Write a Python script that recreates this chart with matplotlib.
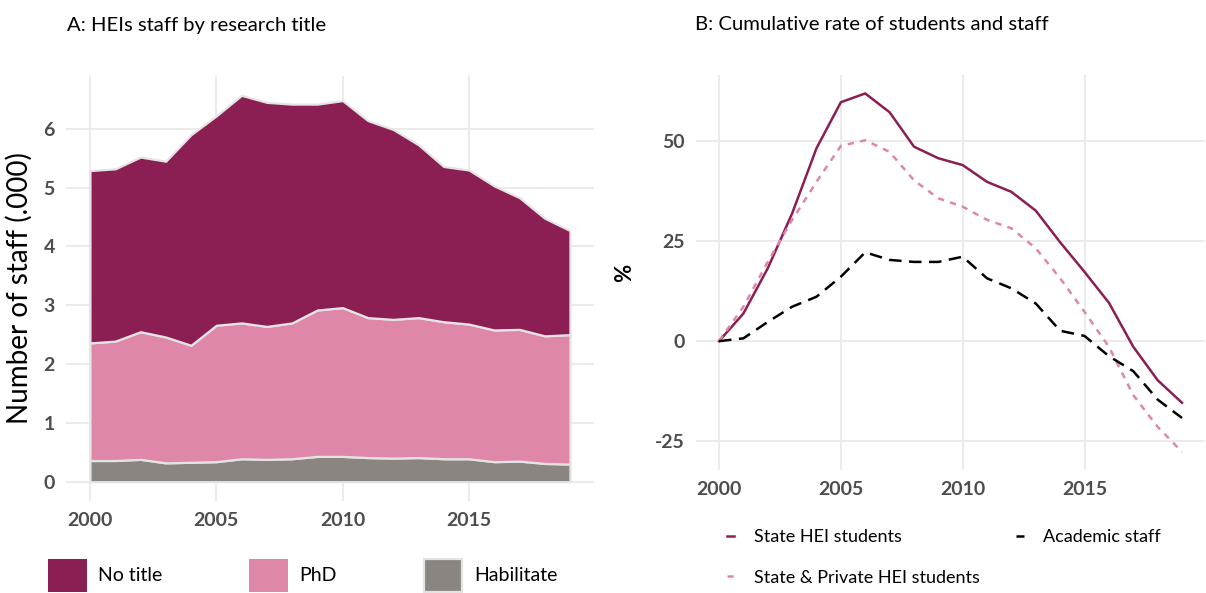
import numpy as np
import matplotlib
matplotlib.use("Agg")
import matplotlib.pyplot as plt
from matplotlib.patches import Patch
from matplotlib.lines import Line2D

plt.rcParams['font.family'] = ['Lato', 'DejaVu Sans']
plt.rcParams['axes.unicode_minus'] = False

years = list(range(2000, 2020))

# panel A, thousands of staff
total = [5.29, 5.32, 5.52, 5.45, 5.90, 6.22, 6.57, 6.45, 6.42, 6.42,
         6.48, 6.14, 5.99, 5.73, 5.36, 5.30, 5.03, 4.83, 4.48, 4.27]
phd_top = [2.36, 2.39, 2.55, 2.46, 2.32, 2.66, 2.70, 2.64, 2.70, 2.92,
           2.96, 2.79, 2.76, 2.79, 2.72, 2.68, 2.58, 2.59, 2.48, 2.50]
habilitate = [0.36, 0.36, 0.38, 0.32, 0.33, 0.34, 0.39, 0.38, 0.39, 0.43,
              0.43, 0.41, 0.40, 0.41, 0.39, 0.39, 0.34, 0.35, 0.31, 0.30]
phd = [p - h for p, h in zip(phd_top, habilitate)]
no_title = [t - p for t, p in zip(total, phd_top)]

# panel B, cumulative change in %
state_students = [0, 6.9, 18.2, 31.9, 48.2, 59.7, 61.9, 57.2, 48.6, 45.7,
                  44.0, 39.8, 37.3, 32.6, 24.7, 17.3, 9.6, -1.4, -9.75, -15.4]
all_students = [0, 8.6, 19.8, 30.3, 39.8, 48.8, 50.2, 47.3, 40.2, 35.7,
                33.6, 30.3, 28.2, 23.2, 15.7, 7.3, -1.4, -13.5, -21.4, -27.7]
academic_staff = [0, 0.7, 4.8, 8.6, 11.1, 16.1, 22.2, 20.3, 19.8, 19.8,
                  21.1, 15.7, 13.2, 9.4, 2.6, 1.3, -3.75, -7.5, -14.6, -19.2]

dark = '#8b1e52'
pink = '#de87a8'
grey = '#8a8580'
tick_col = '#4d4d4d'
grid_col = '#ebebeb'

fig = plt.figure(figsize=(12.06, 5.93), dpi=100)
axA = fig.add_axes([0.0547, 0.155, 0.4378, 0.717])
axB = fig.add_axes([0.577, 0.2074, 0.4223, 0.6654])

axA.stackplot(years, habilitate, phd, no_title, colors=[grey, pink, dark],
              edgecolor='#e4e4e4', linewidth=1.6)
axA.set_xlim(1999.05, 2019.95)
axA.set_ylim(-0.33, 6.9)
axA.set_yticks(range(0, 7))
axA.set_ylabel('Number of staff (.000)', fontsize=20, labelpad=8)

axB.plot(years, state_students, color=dark, lw=1.8, label='State HEI students')
axB.plot(years, all_students, color=pink, lw=1.8, ls=(0, (2.5, 2.5)),
         label='State & Private HEI students')
axB.plot(years, academic_staff, color='black', lw=1.8, ls=(0, (5, 3)),
         label='Academic staff')
axB.set_xlim(1999.05, 2019.95)
axB.set_ylim(-32.2, 66.4)
axB.set_yticks([-25, 0, 25, 50])
axB.set_ylabel('%', fontsize=16, fontweight='bold', labelpad=14)

for ax in (axA, axB):
    ax.set_xticks([2000, 2005, 2010, 2015])
    ax.grid(True, color=grid_col, lw=1.5)
    ax.set_axisbelow(True)
    for s in ax.spines.values():
        s.set_visible(False)
    ax.tick_params(length=0, labelsize=14, labelcolor=tick_col, pad=8)
    for lab in ax.get_xticklabels() + ax.get_yticklabels():
        lab.set_fontweight('bold')

fig.text(67 / 1206, 1 - 25 / 593, 'A: HEIs staff by research title',
         fontsize=14.6, va='center', ha='left')
fig.text(695 / 1206, 1 - 25 / 593, 'B: Cumulative rate of students and staff',
         fontsize=14.6, va='center', ha='left')

handlesA = [Patch(facecolor=dark, edgecolor='none', label='No title'),
            Patch(facecolor=pink, edgecolor='none', label='PhD'),
            Patch(facecolor=grey, edgecolor='#e4e4e4', lw=1.6, label='Habilitate')]
fig.legend(handles=handlesA, ncol=3, loc='lower left',
           bbox_to_anchor=(40 / 1206, -0.012), frameon=False, fontsize=14,
           handlelength=2.0, handleheight=2.3, handletextpad=0.6,
           columnspacing=4.45, borderaxespad=0)

hB = axB.get_legend_handles_labels()[0]
fig.legend(handles=hB, ncol=2, loc='lower left',
           bbox_to_anchor=(720 / 1206, 0.0), frameon=False, fontsize=13,
           handlelength=0.4, handletextpad=1.1, columnspacing=2.0,
           labelspacing=1.35, borderaxespad=0)

fig.savefig('out.png', dpi=100, facecolor='white')
